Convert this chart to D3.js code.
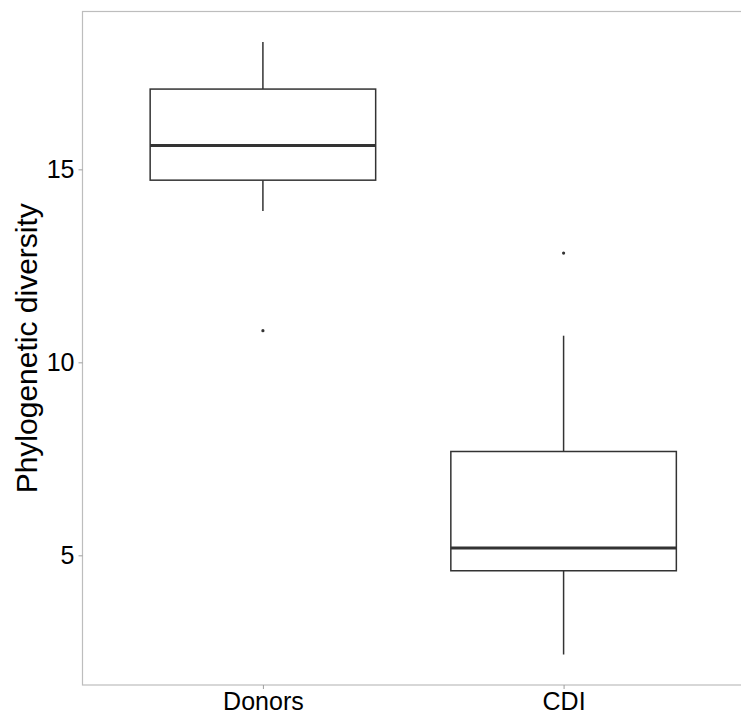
<!DOCTYPE html>
<html>
<head>
<meta charset="utf-8">
<script src="https://cdn.jsdelivr.net/npm/d3@7"></script>
<style>
  html, body { margin: 0; padding: 0; background: #fff; }
  svg { display: block; }
  text { font-family: "Liberation Sans", Arial, Helvetica, sans-serif; fill: #000; }
</style>
</head>
<body>
<svg id="chart" width="741" height="717"></svg>
<script>
// ---- data ----
const categories = ["Donors", "CDI"];
const whiskerLow = [13.92, 2.43];
const q1 = [14.72, 4.60];
const median = [15.62, 5.19];
const q3 = [17.08, 7.69];
const whiskerHigh = [18.30, 10.69];
const outliers = [[10.82], [12.83]];
const yTicks = [5, 10, 15];
const yTitle = "Phylogenetic diversity";

// ---- layout ----
const W = 741, H = 717;
const margin = { left: 82.5, top: 11.5, right: -3, bottom: 32 };
const svg = d3.select("#chart");

const x = d3.scalePoint()
  .domain(categories)
  .range([margin.left, W - margin.right])
  .padding(0.6);

const yMin = 1.64, yMax = 19.09;
const y = d3.scaleLinear().domain([yMin, yMax]).range([H - margin.bottom, margin.top]);

const panelL = margin.left, panelR = W - margin.right, panelT = margin.top, panelB = H - margin.bottom;

// panel border
svg.append("rect")
  .attr("x", panelL).attr("y", panelT)
  .attr("width", panelR - panelL).attr("height", panelB - panelT)
  .attr("fill", "none").attr("stroke", "#bdbdbd").attr("stroke-width", 1.2);

// axes
const yAxis = d3.axisLeft(y).tickValues(yTicks).tickSize(4).tickPadding(4).tickFormat(d3.format("d"));
const gy = svg.append("g").attr("transform", `translate(${panelL},0)`).call(yAxis);
gy.select(".domain").remove();
gy.selectAll(".tick line").attr("stroke", "#9e9e9e");
gy.selectAll(".tick text").attr("font-size", 25).attr("fill", "#000")
  .attr("font-family", '"Liberation Sans", Arial, Helvetica, sans-serif');

const xAxis = d3.axisBottom(x).tickSize(4).tickPadding(3);
const gx = svg.append("g").attr("transform", `translate(0,${panelB})`).call(xAxis);
gx.select(".domain").remove();
gx.selectAll(".tick line").attr("stroke", "#9e9e9e");
gx.selectAll(".tick text").attr("font-size", 25).attr("fill", "#000")
  .attr("font-family", '"Liberation Sans", Arial, Helvetica, sans-serif');

// y title
svg.append("text")
  .attr("transform", `translate(37,${(panelT + panelB) / 2}) rotate(-90)`)
  .attr("text-anchor", "middle")
  .attr("font-size", 30)
  .text(yTitle);

// boxes
const boxW = x.step() * 0.75;
const lineCol = "#333333";
const data = categories.map((c, i) => ({
  c, lo: whiskerLow[i], q1: q1[i], med: median[i], q3: q3[i], hi: whiskerHigh[i], out: outliers[i]
}));

const g = svg.append("g");
data.forEach(d => {
  const cx = x(d.c);
  // whiskers
  g.append("line").attr("x1", cx).attr("x2", cx).attr("y1", y(d.hi)).attr("y2", y(d.q3))
    .attr("stroke", lineCol).attr("stroke-width", 1.5);
  g.append("line").attr("x1", cx).attr("x2", cx).attr("y1", y(d.q1)).attr("y2", y(d.lo))
    .attr("stroke", lineCol).attr("stroke-width", 1.5);
  // box
  g.append("rect").attr("x", cx - boxW / 2).attr("y", y(d.q3))
    .attr("width", boxW).attr("height", y(d.q1) - y(d.q3))
    .attr("fill", "#fff").attr("stroke", lineCol).attr("stroke-width", 1.5);
  // median
  g.append("line").attr("x1", cx - boxW / 2).attr("x2", cx + boxW / 2)
    .attr("y1", y(d.med)).attr("y2", y(d.med))
    .attr("stroke", lineCol).attr("stroke-width", 3);
  // outliers
  d.out.forEach(v => {
    g.append("circle").attr("cx", cx).attr("cy", y(v)).attr("r", 1.6).attr("fill", lineCol);
  });
});
</script>
</body>
</html>
